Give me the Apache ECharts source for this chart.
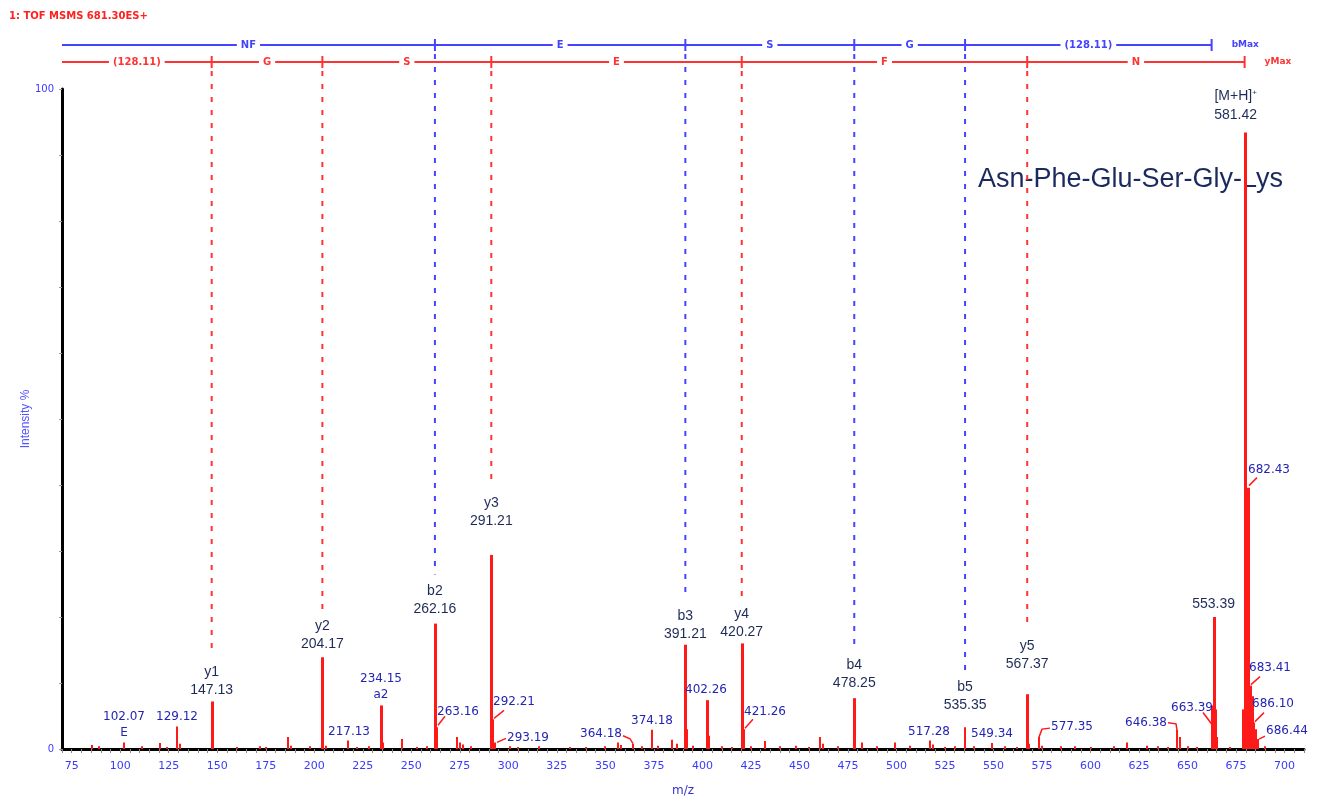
<!DOCTYPE html>
<html>
<head>
<meta charset="utf-8">
<title>MS/MS spectrum Asn-Phe-Glu-Ser-Gly-Lys</title>
<script src="https://cdn.jsdelivr.net/npm/echarts/dist/echarts.min.js"></script>
<style>
html, body { margin: 0; padding: 0; background: #fff; }
#main { width: 1324px; height: 802px; }
</style>
</head>
<body>
<div id="main"></div>
<script>
// stick spectrum, m/z and relative intensity (%)
const peakMz = [85.3, 89, 102.07, 111, 120.3, 124, 129.12, 131, 147.13, 160, 171.9, 175, 186.3, 188, 198,
  204.17, 206, 217.13, 222, 228, 234.15, 235.5, 245, 253, 258, 262.16, 263.16, 273.4, 275, 276.5, 281,
  291.21, 292.21, 293.19, 300.7, 305, 316, 331.6, 340, 350, 356.3, 358, 364.18, 369, 374.18, 377,
  384.2, 387, 391.21, 392.3, 395, 402.26, 403.2, 410, 415, 420.27, 421.26, 425, 432.1, 440, 448, 455,
  460.4, 462, 470, 478.25, 482, 490, 499.1, 506.8, 517.28, 519, 525, 530, 535.35, 540, 549.34, 556, 562,
  567.37, 568.5, 573.4, 575, 585, 592, 600, 612, 618.6, 628.9, 635, 640, 644.4, 645.9, 650, 655,
  662.6, 663.4, 664.3, 665.2, 672, 678.4, 679.4, 680.3, 681.2, 682.3, 683.3, 684.3, 685.2, 686.2, 690];
const peakInt = [0.6, 0.4, 1.0, 0.4, 0.9, 0.3, 3.4, 0.8, 7.2, 0.3, 0.4, 0.3, 1.8, 0.5, 0.4,
  13.9, 0.5, 1.3, 0.3, 0.4, 6.6, 1.0, 1.5, 0.3, 0.4, 19.0, 3.3, 1.8, 1.0, 0.7, 0.4,
  29.4, 4.5, 1.0, 0.4, 0.3, 0.4, 0.3, 0.3, 0.4, 1.0, 0.6, 0.8, 0.4, 2.9, 0.5,
  1.4, 0.8, 15.8, 3.0, 0.5, 7.4, 2.0, 0.4, 0.3, 16.0, 3.0, 0.4, 1.2, 0.4, 0.5, 0.3,
  1.8, 0.8, 0.4, 7.7, 1.0, 0.4, 1.0, 0.5, 1.3, 0.7, 0.3, 0.4, 3.3, 0.4, 0.9, 0.4, 0.3,
  8.3, 0.8, 1.8, 0.5, 0.4, 0.4, 0.3, 0.4, 1.0, 0.5, 0.4, 0.3, 2.9, 1.8, 0.4, 0.3,
  6.6, 20.0, 6.0, 1.8, 0.3, 6.0, 93.4, 6.0, 39.6, 9.6, 8.0, 4.0, 3.0, 1.5, 0.4];

// annotated fragment ions
const majorMz = [147.13, 204.17, 262.16, 291.21, 391.21, 420.27, 478.25, 535.35, 567.37, 663.4, 679.4];
const majorName = ['y1', 'y2', 'b2', 'y3', 'b3', 'y4', 'b4', 'b5', 'y5', '', '[M+H]{s|+}'];
const majorText = ['147.13', '204.17', '262.16', '291.21', '391.21', '420.27', '478.25', '535.35', '567.37', '553.39', '581.42'];

// other labelled peaks
const minorMz = [102.07, 129.12, 217.13, 234.15, 263.16, 292.21, 293.19, 364.18, 374.18, 402.26, 421.26,
  517.28, 549.34, 573.4, 644.4, 662.6, 681.2, 682.3, 684.3, 686.2];
const minorText = ['102.07\nE', '129.12', '217.13', '234.15\na2', '263.16', '292.21', '293.19', '364.18', '374.18',
  '402.26', '421.26', '517.28', '549.34', '577.35', '646.38', '663.39', '682.43', '683.41', '686.10', '686.44'];

// sequence ladders
const bIons = [262.16, 391.21, 478.25, 535.35];
const bMax = 662.4;
const bResidues = ['NF', 'E', 'S', 'G', '(128.11)'];
const yIons = [147.13, 204.17, 291.21, 420.27, 567.37];
const yMax = 679.4;
const yResidues = ['(128.11)', 'G', 'S', 'E', 'F', 'N'];

const xTicks = { min: 70, max: 710, step: 5, labelEvery: 25 };

// label layout (px): gap above peak for big labels
const majorGap = [4, 6, 7, 27, 4, 4, 8, 15, 23, 6, 10];
const majorDx = [0, 0, 0, 0, 0, 0, 0, 0, 0, 0, -9];
// [dx, dy, align, leader points] relative to stick top
const minorPlace = [
  [0, -18, 'center', null],
  [0, -10, 'center', null],
  [1, -9, 'center', null],
  [0, -19, 'center', null],
  [0, -15, 'left', [[1, -2], [8, -11]]],
  [0, -17, 'left', [[1, -1], [11, -9]]],
  [12, -5, 'left', [[2, 0], [11, -4]]],
  [-11, -10, 'right', [[0, 0], [-3, -5], [-10, -8]]],
  [0, -9, 'center', null],
  [-1, -10, 'center', null],
  [0, -17, 'left', [[1, -1], [9, -10]]],
  [-1, -9, 'center', null],
  [0, -9, 'center', null],
  [12, -10, 'left', [[0, 0], [3, -8], [11, -9]]],
  [-10, -7, 'right', [[0, 0], [-1, -6], [-9, -7]]],
  [1, 2, 'right', [[0, 19], [-9, 7]]],
  [0, -18, 'left', [[1, -2], [9, -10]]],
  [-1, -18, 'left', [[1, -1], [10, -9]]],
  [-2, -19, 'left', [[1, -1], [10, -10]]],
  [8, -8, 'left', [[1, 0], [7, -3]]]
];

const RED = '#ff1a1a';
const BLUE = '#3a3aff';
const NAVY = '#1e2b58';
const MINOR = '#2424b4';

function intensityAt(mz) {
  let best = 0;
  for (let i = 1; i < peakMz.length; i++) {
    if (Math.abs(peakMz[i] - mz) < Math.abs(peakMz[best] - mz)) best = i;
  }
  return peakInt[best];
}

const chart = echarts.init(document.getElementById('main'));

function renderStick(params, api) {
  const v = api.value(1);
  const top = api.coord([api.value(0), v]);
  const base = api.coord([api.value(0), 0]);
  const w = v > 5 ? 3 : 2;
  return {
    type: 'rect',
    shape: { x: Math.round(top[0]) - 1, y: top[1], width: w, height: base[1] - top[1] },
    style: { fill: RED }
  };
}

function renderOverlay(params, api) {
  const X = m => api.coord([m, 0])[0];
  const Y = v => api.coord([0, v])[1];
  const left = X(xTicks.min);
  const kids = [];

  // top of each big label block
  function labelTop(mz) {
    const i = majorMz.indexOf(mz);
    return Y(intensityAt(mz)) - majorGap[i] - 36;
  }

  // big ion labels
  majorMz.forEach((mz, i) => {
    const px = X(mz) + majorDx[i];
    const bottom = Y(intensityAt(mz)) - majorGap[i];
    kids.push({ type: 'text', style: {
      text: majorText[i], x: px, y: bottom, align: 'center', verticalAlign: 'bottom',
      fill: NAVY, font: '14px "Liberation Sans", Arial, sans-serif' } });
    if (majorName[i]) {
      kids.push({ type: 'text', style: {
        text: majorName[i], x: px, y: bottom - 18, align: 'center', verticalAlign: 'bottom',
        fill: NAVY, font: '14px "Liberation Sans", Arial, sans-serif',
        rich: { s: { fontSize: 8, padding: [0, 0, 8, 0], fill: NAVY } } } });
    }
  });

  // small labels with leader lines
  minorMz.forEach((mz, i) => {
    const p = minorPlace[i];
    const px = Math.round(X(mz));
    const top = Y(intensityAt(mz));
    kids.push({ type: 'text', style: {
      text: minorText[i], x: px + p[0], y: top + p[1], align: p[2], verticalAlign: 'middle',
      fill: MINOR, font: '12px "DejaVu Sans", Verdana, sans-serif', lineHeight: 16 } });
    if (p[3]) {
      kids.push({ type: 'polyline', shape: { points: p[3].map(q => [px + q[0], top + q[1]]) },
        style: { stroke: RED, lineWidth: 1.5, fill: null } });
    }
  });

  // sequence ladders
  function ladder(ions, end, names, color, yLine, tag) {
    const pts = [left].concat(ions.map(X), [X(end)]);
    kids.push({ type: 'line', shape: { x1: left, y1: yLine, x2: X(end), y2: yLine },
      style: { stroke: color, lineWidth: 2 } });
    pts.slice(1).forEach(px => {
      kids.push({ type: 'line', shape: { x1: px, y1: yLine - 6, x2: px, y2: yLine + 6 },
        style: { stroke: color, lineWidth: 2 } });
    });
    names.forEach((n, i) => {
      kids.push({ type: 'text', style: {
        text: n, x: (pts[i] + pts[i + 1]) / 2, y: yLine, align: 'center', verticalAlign: 'middle',
        fill: color, font: 'bold 10px "DejaVu Sans", sans-serif', backgroundColor: '#fff', padding: [1, 4] } });
    });
    ions.forEach(mz => {
      kids.push({ type: 'line', shape: { x1: X(mz), y1: yLine + 9, x2: X(mz), y2: labelTop(mz) - 6 },
        style: { stroke: color, lineWidth: 2, lineDash: [5, 8] } });
    });
    kids.push({ type: 'text', style: {
      text: tag, x: X(end) + 20, y: yLine, align: 'left', verticalAlign: 'middle',
      fill: color, font: 'bold 9px "DejaVu Sans", sans-serif' } });
  }
  ladder(bIons, bMax, bResidues, '#4444ff', 45, 'bMax');
  ladder(yIons, yMax, yResidues, '#ff3333', 62, 'yMax');

  return { type: 'group', children: kids };
}

chart.setOption({
  animation: false,
  backgroundColor: '#fff',
  grid: { left: 62, right: 20, top: 89, bottom: 50 },
  xAxis: {
    type: 'value', min: xTicks.min, max: xTicks.max, interval: xTicks.step,
    name: 'm/z', nameLocation: 'middle', nameGap: 36,
    nameTextStyle: { color: '#3333cc', fontSize: 12, fontFamily: 'DejaVu Sans' },
    splitLine: { show: false },
    axisLine: { lineStyle: { color: '#000', width: 3 } },
    axisTick: { length: 4, lineStyle: { color: '#888', width: 1 } },
    axisLabel: {
      color: BLUE, fontSize: 11, fontFamily: 'DejaVu Sans', margin: 12,
      formatter: v => (v % xTicks.labelEvery === 0 ? String(v) : '')
    }
  },
  yAxis: {
    type: 'value', min: 0, max: 100, interval: 10,
    name: 'Intensity %', nameLocation: 'middle', nameGap: 30, nameMoveOverlap: false,
    nameTextStyle: { color: '#5555ff', fontSize: 12, fontFamily: 'Liberation Sans' },
    splitLine: { show: false },
    axisLine: { show: true, lineStyle: { color: '#000', width: 3 } },
    axisTick: { show: true, length: 3, lineStyle: { color: '#999', width: 1 } },
    axisLabel: {
      color: BLUE, fontSize: 10, fontFamily: 'DejaVu Sans', margin: 8,
      formatter: v => (v === 0 || v === 100 ? String(v) : '')
    }
  },
  graphic: [
    { type: 'text', left: 9, top: 11,
      style: { text: '1: TOF MSMS 681.30ES+', fill: '#ff2020', font: 'bold 10px "DejaVu Sans", sans-serif' } },
    { type: 'text', left: 978, top: 166,
      style: { text: 'Asn-Phe-Glu-Ser-Gly-Lys', fill: '#1b2a5e', font: '27px "Liberation Sans", Arial, sans-serif' } }
  ],
  series: [
    {
      type: 'custom', name: 'spectrum', clip: false,
      data: peakMz.map((m, i) => [m, peakInt[i]]),
      renderItem: renderStick
    },
    {
      type: 'custom', name: 'annotations', clip: false, silent: true,
      data: [[xTicks.min, 0]],
      renderItem: renderOverlay
    }
  ]
});
</script>
</body>
</html>
